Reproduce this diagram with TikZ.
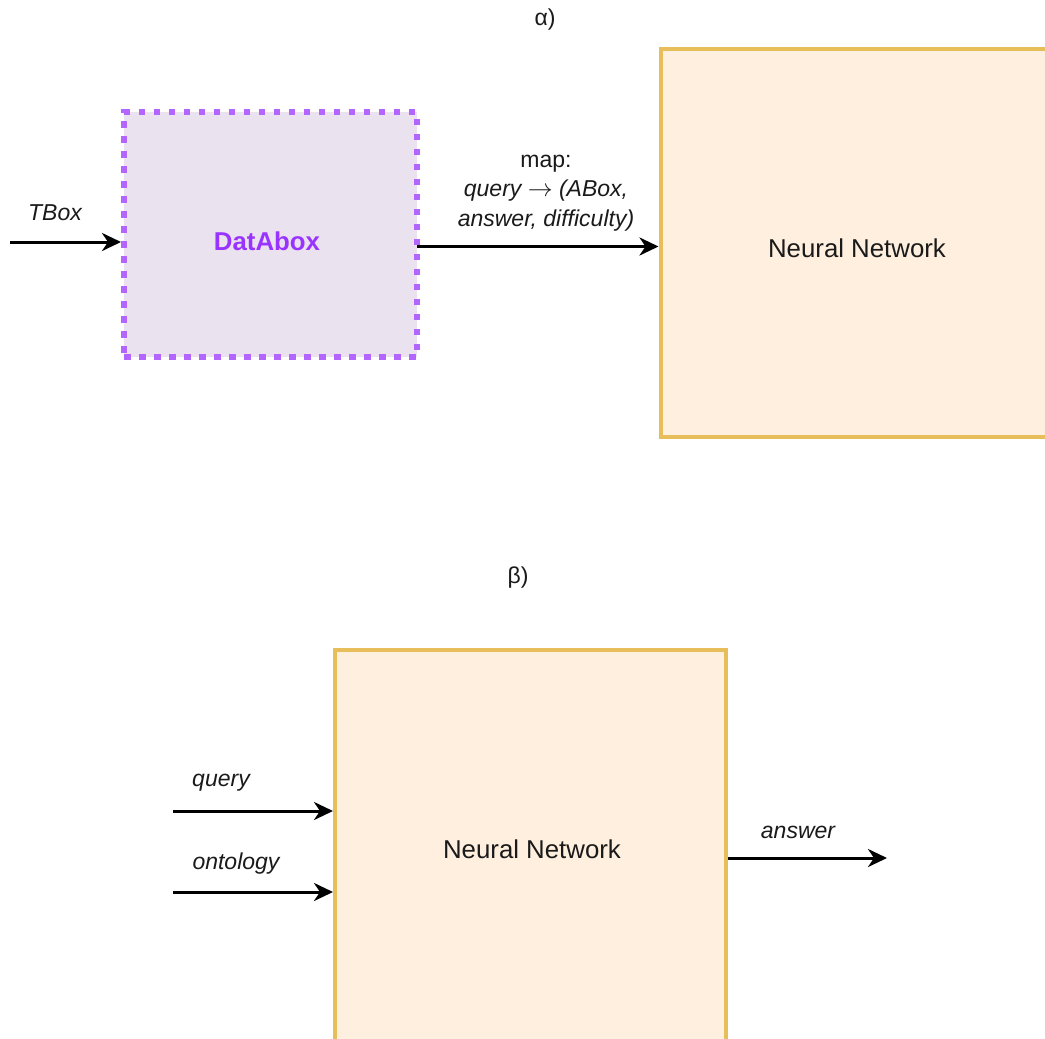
\documentclass[tikz,border=0pt]{standalone}
\usepackage{fontspec}
\setmainfont{Liberation Sans}
\usetikzlibrary{arrows.meta}

\definecolor{dabstroke}{HTML}{B266FF}
\definecolor{dabfill}{HTML}{EAE2EF}
\definecolor{dabtext}{HTML}{9933FF}
\definecolor{nnstroke}{HTML}{E8BE5A}
\definecolor{nnfill}{HTML}{FFEFDF}
\definecolor{ink}{HTML}{1A1A1A}

\tikzset{
  bigtext/.style={font=\fontsize{25.8}{31}\selectfont, text=ink},
  smalltext/.style={font=\fontsize{23}{29.5}\selectfont, text=ink},
  edgelabel/.style={font=\fontsize{23}{29.5}\selectfont\itshape, text=ink},
  nnbox/.style={draw=nnstroke, fill=nnfill, line width=4pt, inner sep=0pt},
  dabbox/.style={draw=dabstroke, fill=dabfill, line width=6pt, inner sep=0pt,
    dash pattern=on 6.5pt off 8.5pt},
  flow/.style={draw=black, line width=3pt,
    -{Stealth[length=19pt, width=18pt, inset=6pt]}},
}

\begin{document}
\begin{tikzpicture}[x=1pt, y=-1pt]
  \useasboundingbox (0,0) rectangle (1045,1039);
  \fill[white] (0,0) rectangle (1045,1039);

  % panel titles
  \node[smalltext] (alpha) at (545,20) {α)};
  \node[smalltext] (beta) at (518,578) {β)};

  % ---- panel alpha ----
  \node[dabbox, minimum width=293pt, minimum height=245pt] (dab) at (270.5,234.5) {};
  \node[bigtext, font=\fontsize{25.8}{31}\selectfont\bfseries, text=dabtext] (dablabel) at (267,241) {DatAbox};

  \node[nnbox, minimum width=400pt, minimum height=388pt] (nna) at (860.5,243) {};
  \node[bigtext] (nnalabel) at (857,248) {Neural Network};

  \coordinate (tin) at (10,242);
  \draw[flow] (tin) -- (tin -| dab.west);
  \node[edgelabel] (tboxlabel) at (55,213) {TBox};

  \coordinate (mapstart) at (417,246.5);
  \draw[flow] (mapstart) -- (mapstart -| nna.west);
  \node[smalltext, align=center] (maplabel) at (546,193)
    {map:\\ \itshape query $\rightarrow$ (ABox,\\ \itshape answer, difficulty)};

  % ---- panel beta ----
  \node[nnbox, minimum width=391pt, minimum height=400pt] (nnb) at (530.5,850) {};
  \node[bigtext] (nnblabel) at (532,849) {Neural Network};

  \coordinate (qin) at (173,811);
  \draw[flow] (qin) -- (qin -| nnb.west);
  \node[edgelabel] (qlabel) at (221,783) {query};

  \coordinate (oin) at (173,892);
  \draw[flow] (oin) -- (oin -| nnb.west);
  \node[edgelabel] (olabel) at (236,864) {ontology};

  \coordinate (aout) at (887,858);
  \draw[flow] (aout -| nnb.east) -- (aout);
  \node[edgelabel] (alabel) at (798,832) {answer};
\end{tikzpicture}
\end{document}
